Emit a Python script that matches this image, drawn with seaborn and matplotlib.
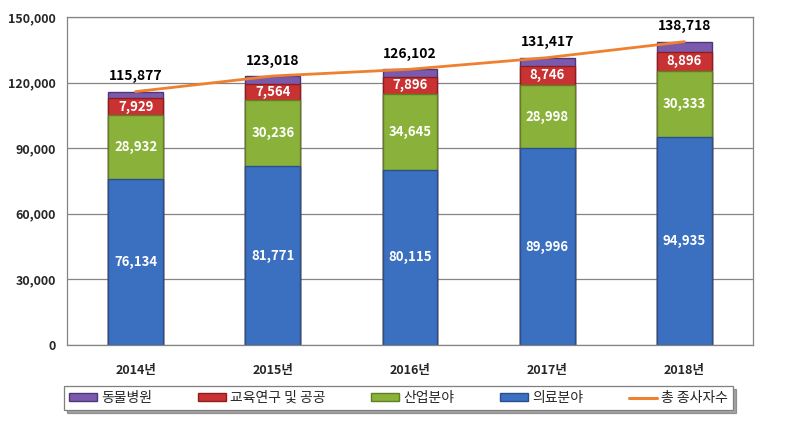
import numpy as np
import pandas as pd
import matplotlib
matplotlib.use("Agg")
import matplotlib.pyplot as plt
import seaborn as sns
from matplotlib.patches import Patch
from matplotlib.lines import Line2D

years = ["2014년", "2015년", "2016년", "2017년", "2018년"]
medical = [76134, 81771, 80115, 89996, 94935]
industry = [28932, 30236, 34645, 28998, 30333]
education = [7929, 7564, 7896, 8746, 8896]
animal = [2882, 3447, 3446, 3677, 4554]
totals = [115877, 123018, 126102, 131417, 138718]

series_names = ["의료분야", "산업분야", "교육연구 및 공공", "동물병원"]
series_vals = [medical, industry, education, animal]
colors = ["#3B6FC0", "#8AB23A", "#C83232", "#7B5AAE"]
edges = ["#2A4F8C", "#5E7F22", "#8E1E1E", "#4E3777"]
line_color = "#EE8030"

sns.set_theme(style="white")
plt.rcParams['font.family'] = ['Noto Sans CJK KR', 'DejaVu Sans']

fig = plt.figure(figsize=(7.9, 4.28), dpi=100)
ax = fig.add_axes([67/790, 1-345/428, (753-67)/790, (345-17)/428])

cum = np.zeros(len(years))
cums = []
for v in series_vals:
    cum = cum + np.array(v)
    cums.append(cum.copy())

# draw from the top layer down so that lower layers overlay
for i in reversed(range(len(series_vals))):
    d = pd.DataFrame({"year": years, "val": cums[i]})
    sns.barplot(data=d, x="year", y="val", color=colors[i], width=0.4,
                edgecolor=edges[i], linewidth=1.0, saturation=1, ax=ax, zorder=2)

sns.lineplot(x=np.arange(len(years)), y=totals, color=line_color, linewidth=2.0,
             ax=ax, zorder=4)

# segment labels
bottoms = np.zeros(len(years))
for i, v in enumerate(series_vals):
    v = np.array(v)
    if i < 3:
        for j in range(len(years)):
            ax.text(j, bottoms[j] + v[j] / 2, f"{v[j]:,}", ha="center", va="center",
                    color="white", fontsize=9.5, fontweight="bold", zorder=5)
    bottoms = bottoms + v

for j, t in enumerate(totals):
    ax.text(j, t + 3800, f"{t:,}", ha="center", va="bottom", color="black",
            fontsize=10, fontweight="bold", zorder=5)

ax.set_xlim(-0.5, 4.5)
ax.set_ylim(0, 150000)
ax.set_yticks(np.arange(0, 150001, 30000))
ax.set_yticklabels([f"{int(y):,}" for y in np.arange(0, 150001, 30000)],
                   fontsize=9, fontweight="bold")
ax.set_xticks(np.arange(len(years)))
ax.set_xticklabels(years, fontsize=9, fontweight="bold")
ax.set_xlabel("")
ax.set_ylabel("")
ax.tick_params(axis="x", length=0, pad=14)
ax.tick_params(axis="y", length=0, pad=8)
ax.set_xticks(np.arange(0.5, 4.5, 1.0), minor=True)
ax.tick_params(axis="x", which="minor", direction="in", length=4, color="#888888")
ax.yaxis.grid(True, color="#848484", linewidth=0.9)
ax.set_axisbelow(True)
for s in ax.spines.values():
    s.set_color("#848484")
    s.set_linewidth(0.9)
    s.set_visible(True)

handles = [Patch(facecolor=colors[3], edgecolor=edges[3]),
           Patch(facecolor=colors[2], edgecolor=edges[2]),
           Patch(facecolor=colors[1], edgecolor=edges[1]),
           Patch(facecolor=colors[0], edgecolor=edges[0]),
           Line2D([0], [0], color=line_color, linewidth=2.2)]
labels = ["동물병원", "교육연구 및 공공", "산업분야", "의료분야", "총 종사자수"]
leg = fig.legend(handles, labels, loc="center", ncol=5, mode="expand",
                 bbox_to_anchor=(57/790, 1-411/428, (740-57)/790, 26/428),
                 frameon=True, fancybox=False, shadow=True, fontsize=10,
                 handlelength=2.0, handleheight=0.45, borderpad=0.35,
                 handletextpad=0.3, columnspacing=1.0)
leg.get_frame().set_edgecolor("#7F7F7F")
leg.get_frame().set_linewidth(0.9)

fig.savefig("out.png", dpi=100)
